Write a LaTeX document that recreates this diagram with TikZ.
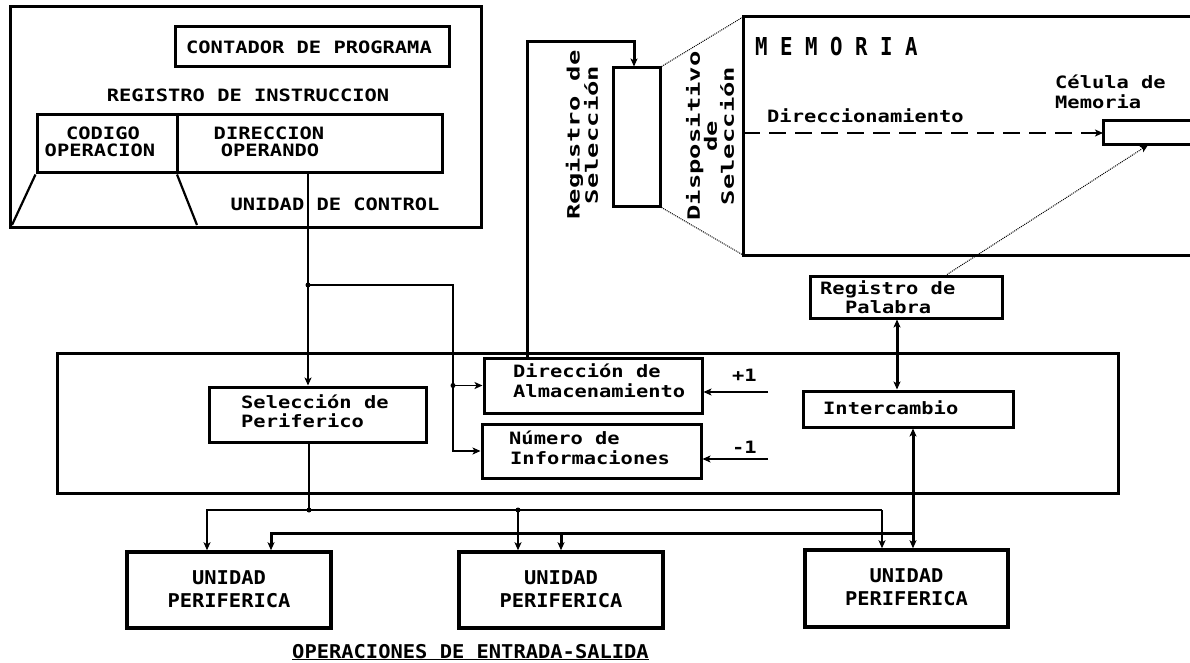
\documentclass[tikz,border=0pt]{standalone}
\usepackage{fontspec}
\newfontfamily\mf[FakeStretch=1.2]{DejaVu Sans Mono}
\newfontfamily\mfu[FakeStretch=1.075]{DejaVu Sans Mono}
\newfontfamily\mfw[FakeStretch=1.5]{DejaVu Sans Mono}
\newfontfamily\mfc[FakeStretch=0.84]{DejaVu Sans Mono}
\usetikzlibrary{arrows.meta,calc}
\begin{document}
\begin{tikzpicture}[x=1pt,y=-1pt,
  >={Stealth[length=8pt,width=7pt,inset=2pt]},
  box/.style={draw, line width=3pt, inner sep=0pt},
  ubox/.style={draw, line width=3.5pt, inner sep=0pt, minimum width=204pt, minimum height=76pt},
  lbl/.style={font=\mf\bfseries\fontsize{17}{17}\selectfont, inner sep=0pt, anchor=base west},
  lblc/.style={lbl, anchor=base},
  ulbl/.style={font=\mfu\bfseries\fontsize{19}{19}\selectfont, inner sep=0pt, anchor=base},
  vlbl/.style={font=\mfw\bfseries\fontsize{17}{15}\selectfont, inner sep=0pt, rotate=90, align=center},
  wire/.style={line width=1.4pt},
  bus/.style={line width=3pt},
  hair/.style={line width=1pt, densely dotted},
  dot/.style={circle, fill, inner sep=0pt, minimum size=5pt}
]
\useasboundingbox (0,0) rectangle (1190,663);

% ---- control unit ----
\node[box, minimum width=471pt, minimum height=220pt] (cu) at (245.5,117) {};
\node[box, minimum width=274pt, minimum height=40pt] (pc) at (312,47) {};
\node[box, minimum width=405pt, minimum height=58pt] (ir) at (239.5,144) {};
\coordinate (dv) at (177,0);
\draw[line width=3pt] (dv |- ir.north) -- (dv |- ir.south) coordinate (dvb);
\coordinate (tzl) at (12,225);
\coordinate (tzr) at (197,225);
\draw[line width=2.2pt] (ir.south west) -- (tzl);
\draw[line width=2.2pt] (dvb) -- (tzr);

\node[lblc] (tpc) at (309,54) {CONTADOR DE PROGRAMA};
\node[lblc] (tir) at (248,102) {REGISTRO DE INSTRUCCION};
\node[lblc] (tco1) at (103,140) {CODIGO};
\node[lblc] (tco2) at (100,157) {OPERACION};
\node[lblc] (tdo1) at (269,140) {DIRECCION};
\node[lblc] (tdo2) at (270,157) {OPERANDO};
\node[lblc] (tuc) at (335,210) {UNIDAD DE CONTROL};

% ---- selection register and memory ----
\node[box, minimum width=47pt, minimum height=138pt] (sr) at (636.5,137) {};
\node[vlbl] (tsr) at (582,135) {Registro de\\Selección};
\node[vlbl, font=\mfw\bfseries\fontsize{17}{17}\selectfont] (tds) at (710,136) {Dispositivo\\de\\Selección};

\coordinate (mTL) at (743,17);
\coordinate (mBL) at (743,255);
\draw[line width=3pt] (1192,17) -- (mTL) -- (mBL) -- (1192,255);
\coordinate (cTL) at (1103,121);
\coordinate (cBL) at (1103,145);
\coordinate (cW) at (1103,133);
\draw[line width=3pt] (1192,121) -- (cTL) -- (cBL) -- (1192,145);
\coordinate (cS) at (1148,145);

\node[font=\mfc\bfseries\fontsize{24.7}{24}\selectfont, inner sep=0pt, anchor=base west] (tmem) at (755,56) {M E M O R I A};
\node[lbl] (tdir) at (767,123) {Direccionamiento};
\node[lbl] (tcel1) at (1055,89) {Célula de};
\node[lbl] (tcel2) at (1055,109) {Memoria};

\coordinate (dA) at (743,133);
\draw[wire, dash pattern=on 17pt off 9pt, ->] (dA) -- (cW);
\draw[hair] (sr.north east) -- (mTL);
\draw[hair] (sr.south east) -- (mBL);

% ---- word register ----
\node[box, minimum width=192pt, minimum height=42pt] (rp) at (906,297) {};
\node[lbl] (trp1) at (820,294) {Registro de};
\node[lbl] (trp2) at (845,313) {Palabra};
\draw[line width=1pt, densely dotted, ->] ([xshift=41pt]rp.north) -- (cS);

% ---- central unit of exchange ----
\node[box, minimum width=1061pt, minimum height=140pt] (mid) at (587.5,423) {};
\node[box, minimum width=218pt, minimum height=55pt] (da) at (593,385.5) {};
\node[box, minimum width=219pt, minimum height=54pt] (ni) at (591.5,451) {};
\node[box, minimum width=217pt, minimum height=55pt] (sp) at (317.5,414.5) {};
\node[box, minimum width=210pt, minimum height=36pt] (ic) at (908,409) {};

\node[lbl] (tda1) at (513,377) {Dirección de};
\node[lbl] (tda2) at (513,397) {Almacenamiento};
\node[lbl] (tni1) at (509,444) {Número de};
\node[lbl] (tni2) at (510,464) {Informaciones};
\node[lbl] (tsp1) at (241,408) {Selección de};
\node[lbl] (tsp2) at (241,427) {Periferico};
\node[lbl] (tic) at (823,414) {Intercambio};
\node[lbl] (tp1) at (732,381) {+1};
\node[lbl] (tm1) at (732,453) {-1};

% ---- peripheral units ----
\node[ubox] (u1) at (229,590) {};
\node[ubox] (u2) at (561,590) {};
\node[ubox, minimum width=203pt, minimum height=77pt] (u3) at (906.5,588.5) {};
\foreach \u in {u1,u2,u3}{
  \node[ulbl] at ([yshift=6pt]\u.center) {UNIDAD};
  \node[ulbl] at ([yshift=-17pt]\u.center) {PERIFERICA};
}
\node[ulbl, anchor=base west] (tes) at (292,658) {\underline{OPERACIONES DE ENTRADA-SALIDA}};

% ---- control wires ----
\coordinate (j1) at (308,285);
\coordinate (j1r) at (453,285);
\draw[wire] (ir.south -| j1) -- (j1);
\draw[wire, ->] (j1) -- (j1 |- sp.north);
\draw[wire, ->] (j1) -- (j1r) -- (j1r |- ni.west) -- (ni.west);
\coordinate (j2) at (j1r |- da.west);
\draw[wire, ->] (j2) -- (da.west);

\coordinate (j3) at (309,510);
\coordinate (j4) at (518,510);
\coordinate (b1) at (207,510);
\coordinate (b3) at (882,510);
\draw[wire] (j3 |- sp.south) -- (j3);
\draw[wire, ->] (b3) -- (b1) -- (b1 |- u1.north);
\draw[wire, ->] (b3) -- (b3 |- u3.north);
\draw[wire, ->] (j4) -- (j4 |- u2.north);

\coordinate (p1) at (768,392);
\coordinate (p2) at (768,459);
\draw[wire, ->] (p1) -- (p1 -| da.east);
\draw[wire, ->] (p2) -- (p2 -| ni.east);

% ---- data paths ----
\coordinate (d1) at (271,533);
\coordinate (d2) at (561,533);
\coordinate (d3) at (913,533);
\draw[bus, <->] (d3 |- ic.south) -- (d3 |- u3.north);
\draw[bus, ->] (d3) -- (d1) -- (d1 |- u1.north);
\draw[bus, ->] (d2) -- (d2 |- u2.north);
\draw[bus, <->] ([xshift=-9pt]rp.south) -- ([xshift=-9pt]rp.south |- ic.north);

\coordinate (s1) at (527,42);
\coordinate (s2) at (634,42);
\draw[bus, ->] (da.north -| s1) -- (s1) -- (s2) -- (s2 |- sr.north);

\foreach \j in {j1,j2,j3,j4} \node[dot] at (\j) {};
\end{tikzpicture}
\end{document}
